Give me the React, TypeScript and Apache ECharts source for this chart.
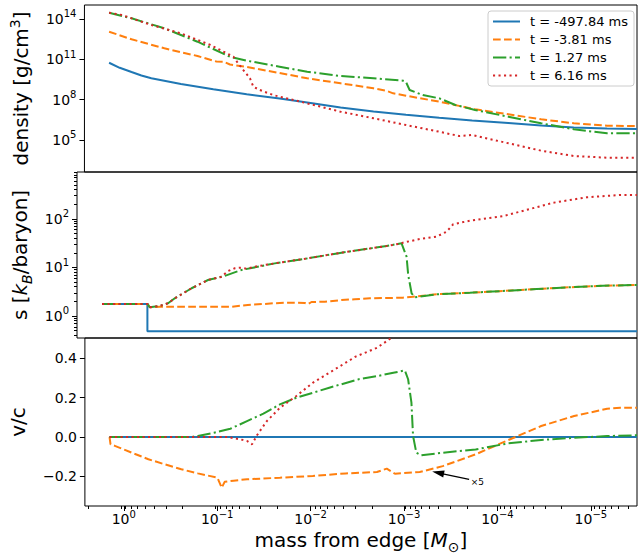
import React, { useEffect, useRef } from "react";
import * as echarts from "echarts";

// ---------------- data (mass from edge in M_sun) ----------------
const seriesNames = ["t = -497.84 ms", "t = -3.81 ms", "t = 1.27 ms", "t = 6.16 ms"];
const seriesColors = ["#1f77b4", "#ff7f0e", "#2ca02c", "#d62728"];

// density [g/cm^3]
const densityBlue = [
  [1.42, 5.5e10], [1.094, 2.31e10], [0.817, 1.12e10], [0.641, 6.2e9], [0.502, 3.8e9],
  [0.242, 1.44e9], [0.109, 5.8e8],
  [0.0479, 2.45e8], [0.0213, 1.19e8], [0.0108, 6.0e7], [0.00475, 2.55e7], [0.00211, 1.28e7],
  [9.48e-4, 7.3e6], [4.18e-4, 4.35e6], [1.86e-4, 2.74e6], [7.62e-5, 1.78e6], [3.4e-5, 1.16e6],
  [1.52e-5, 8.2e5], [6.7e-6, 6.9e5], [3.21e-6, 6.4e5],
];
const densityOrange = [
  [1.42, 1.13e13], [0.817, 3.07e12], [0.364, 6.56e11], [0.161, 1.75e11], [0.101, 6.8e10],
  [0.0851, 6.6e10], [0.0724, 4.07e10], [0.0479, 2.65e10], [0.0213, 9.46e9], [0.0108, 3.81e9],
  [0.00475, 1.62e9], [0.00211, 6.86e8], [0.00154, 4.54e8], [0.0013, 2.9e8], [9.48e-4, 1.93e8],
  [4.18e-4, 6.9e7], [1.73e-4, 1.87e7], [7.62e-5, 7.9e6], [3.4e-5, 3.36e6], [1.52e-5, 1.69e6],
  [6.7e-6, 1.12e6], [3.21e-6, 1.06e6],
];
const densityGreen = [
  [1.42, 2.94e14], [0.817, 1.13e14], [0.364, 2.03e13], [0.161, 2.03e12], [0.0724, 1.55e11],
  [0.0479, 7.8e10], [0.0213, 2.79e10], [0.0108, 1.18e10], [0.00475, 5.66e9], [0.00211, 3.81e9],
  [0.00102, 2.52e9], [9.48e-4, 2.02e9], [8.67e-4, 5.12e8], [6.27e-4, 2.17e8], [4.18e-4, 1.23e8],
  [2.81e-4, 3.91e7], [1.73e-4, 1.66e7], [7.62e-5, 5.25e6], [3.4e-5, 1.69e6], [1.52e-5, 6.04e5],
  [6.7e-6, 3.04e5], [3.21e-6, 3.04e5],
];
const densityRed = [
  [1.42, 2.94e14], [1.04, 2.0e14], [0.502, 3.55e13], [0.242, 8.5e12], [0.117, 1.15e12],
  [0.0664, 1.55e11], [0.061, 6.6e10], [0.052, 1.58e10], [0.0442, 3.8e9], [0.0407, 9.1e8],
  [0.0347, 5.1e8], [0.0251, 2.19e8], [0.0213, 1.62e8], [0.0108, 5.2e7], [0.00475, 1.24e7],
  [0.00211, 4.0e6], [9.48e-4, 1.26e6], [4.18e-4, 4.0e5], [2.57e-4, 1.91e5], [1.86e-4, 2.27e5],
  [7.62e-5, 5.5e4], [3.4e-5, 1.54e4], [1.52e-5, 6.2e3], [6.7e-6, 4.6e3], [3.21e-6, 4.6e3],
];

// entropy s [k_B/baryon]
const entropyBlue = [[1.42, 1.77], [0.471, 1.77], [0.471, 0.484], [3.21e-6, 0.484]];
const entropyOrange = [
  [1.42, 1.77], [0.471, 1.77], [0.445, 1.51], [0.349, 1.55], [0.061, 1.55], [0.0411, 1.68],
  [0.0213, 1.83], [0.0155, 1.88], [0.0103, 1.85], [0.00948, 1.76], [0.00873, 1.94],
  [0.00631, 1.97], [0.00421, 2.13], [0.00305, 2.21], [0.00211, 2.31], [9.48e-4, 2.38],
  [7.43e-4, 2.49], [4.18e-4, 2.8], [1.86e-4, 3.01], [8.33e-5, 3.27], [3.67e-5, 3.59],
  [1.64e-5, 3.9], [7.33e-6, 4.2], [3.21e-6, 4.34],
];
const entropyGreen = [
  [1.42, 1.77], [0.471, 1.77], [0.445, 1.51], [0.349, 1.61], [0.285, 1.83], [0.242, 2.31],
  [0.161, 3.72], [0.108, 5.5], [0.0724, 6.65], [0.0479, 8.84], [0.0213, 12.1], [0.00948, 15.4],
  [0.00421, 20.1], [0.00211, 24.5], [0.00141, 27.5], [9.79e-4, 31.3], [8.67e-4, 16.6],
  [8.33e-4, 6.98], [7.67e-4, 2.93], [7.08e-4, 2.43], [4.18e-4, 2.8], [1.86e-4, 3.01],
  [8.33e-5, 3.27], [3.67e-5, 3.59], [1.64e-5, 3.9], [7.33e-6, 4.2], [3.21e-6, 4.34],
];
const entropyRed = [
  [1.42, 1.77], [0.471, 1.77], [0.445, 1.51], [0.349, 1.61], [0.285, 1.83], [0.242, 2.31],
  [0.161, 3.72], [0.108, 5.5], [0.0778, 6.44], [0.0664, 8.4], [0.0564, 9.6], [0.0479, 9.9],
  [0.0424, 9.4], [0.0322, 10.6], [0.0213, 12.1], [0.00948, 15.4], [0.00421, 20.1],
  [0.00211, 24.5], [0.00141, 27.5], [9.79e-4, 31.3], [9.48e-4, 32.2], [6.27e-4, 38.4],
  [4.18e-4, 42.8], [3.28e-4, 54.3], [2.79e-4, 77.1], [1.86e-4, 91.5], [8.27e-5, 114],
  [5.51e-5, 140], [2.45e-5, 214], [1.09e-5, 277], [4.84e-6, 309], [3.21e-6, 309],
];

// velocity v/c
const velocityBlue = [[1.42, 0], [3.21e-6, 0]];
const velocityOrange = [
  [1.42, 0], [1.385, -0.037], [1.227, -0.046], [0.817, -0.08], [0.545, -0.113], [0.364, -0.139],
  [0.242, -0.164], [0.161, -0.185], [0.0993, -0.207], [0.0894, -0.258], [0.0832, -0.228],
  [0.0668, -0.222], [0.0479, -0.215], [0.0213, -0.207], [0.00948, -0.198], [0.00421, -0.185],
  [0.00195, -0.178], [0.00153, -0.161], [0.00125, -0.187], [6.79e-4, -0.178], [3.85e-4, -0.148],
  [1.71e-4, -0.088], [7.62e-5, -0.015], [3.4e-5, 0.056], [1.51e-5, 0.107], [6.7e-6, 0.144],
  [4.84e-6, 0.149], [3.21e-6, 0.149],
];
const velocityGreen = [
  [1.42, 0], [0.19, 0], [0.161, 0.005], [0.108, 0.022], [0.0724, 0.042], [0.0479, 0.081],
  [0.032, 0.119], [0.0213, 0.166], [0.0142, 0.2], [0.00948, 0.225], [0.00631, 0.251],
  [0.00305, 0.294], [0.00195, 0.31], [0.0013, 0.327], [9.79e-4, 0.339], [9.04e-4, 0.294],
  [8.33e-4, 0.175], [8.0e-4, 0.005], [7.38e-4, -0.08], [6.54e-4, -0.093], [3.85e-4, -0.08],
  [1.71e-4, -0.063], [7.62e-5, -0.032], [3.4e-5, -0.015], [1.51e-5, -0.004], [6.7e-6, 0.005],
  [3.21e-6, 0.009],
];
const velocityRed = [
  [1.42, 0], [0.0778, 0], [0.0564, -0.012], [0.0479, -0.02], [0.0424, -0.037], [0.0375, 0.009],
  [0.0294, 0.081], [0.0213, 0.149], [0.0142, 0.209], [0.00948, 0.276], [0.00631, 0.327],
  [0.0033, 0.409], [0.00195, 0.454], [0.00147, 0.494], [0.00102, 0.55],
];

// annotation (mass, v/c)
const arrowTail = [2.01e-4, -0.215];
const arrowHead = [4.32e-4, -0.182];
const annotationLabelPos = [1.64e-4, -0.229];
const annotationText = "×5";

// tick labels / axis settings
const xMajorExponents = [0, -1, -2, -3, -4, -5];
const densityTickExponents = [5, 8, 11, 14];
const entropyTickExponents = [0, 1, 2];
const velocityTicks = [-0.2, 0, 0.2, 0.4];

const X_LOG_MIN = -5.494;
const X_LOG_MAX = 0.416;
const DENS_LOG_RANGE = [2.599, 15.043];
const ENT_LOG_RANGE = [-0.453, 2.963];
const VEL_RANGE = [-0.351, 0.504];

// ---------------- helpers ----------------
const FONT = "'DejaVu Sans', sans-serif";
const lineTypes: any[] = ["solid", [7.7, 3.3], [13.3, 3.3, 2.1, 3.3], [2.1, 3.4]];

function minorLogTicks(lo: number, hi: number) {
  const out: number[] = [];
  for (let n = Math.floor(lo) - 1; n <= Math.ceil(hi); n++) {
    for (let k = 2; k <= 9; k++) {
      const v = n + Math.log10(k);
      if (v >= lo && v <= hi) out.push(v);
    }
  }
  return out;
}

const minus = (s: string) => s.replace("-", "\u2212");
const expLabel = (v: number) => `{b|10}{s|${minus(String(Math.round(v)))}}`;

const tickRich = {
  b: { fontSize: 14, lineHeight: 14, fontFamily: FONT, color: "#000", verticalAlign: "bottom" },
  s: { fontSize: 10, lineHeight: 10, fontFamily: FONT, color: "#000", verticalAlign: "bottom", padding: [0, 0, 7, 0] },
};
const nameRich = {
  n: { fontSize: 20, lineHeight: 20, fontFamily: FONT, color: "#000", verticalAlign: "bottom", padding: [0, 0, 4, 0] },
  i: { fontSize: 20, lineHeight: 20, fontFamily: FONT, fontStyle: "italic", color: "#000", verticalAlign: "bottom", padding: [0, 0, 4, 0] },
  sub: { fontSize: 14, lineHeight: 14, fontFamily: FONT, fontStyle: "italic", color: "#000", verticalAlign: "bottom" },
  subn: { fontSize: 14, lineHeight: 14, fontFamily: FONT, color: "#000", verticalAlign: "bottom" },
  sup: { fontSize: 14, lineHeight: 14, fontFamily: FONT, color: "#000", verticalAlign: "bottom", padding: [0, 0, 13, 0] },
};

const tickLine = { color: "#000", width: 1 };

function buildOption() {
  const grids = [
    { left: 77, top: 5, width: 560, height: 167 },
    { left: 77, top: 172, width: 560, height: 166 },
    { left: 77, top: 338, width: 560, height: 168 },
    { left: 77, top: 338, width: 560, height: 168 },
    { left: 77, top: 172, width: 560, height: 166 },
  ].map((g, i) => ({
    ...g,
    show: i < 3,
    borderColor: "#000",
    borderWidth: 1,
    backgroundColor: "transparent",
  }));

  const baseX = (gridIndex: number) => ({
    type: "value",
    gridIndex,
    min: X_LOG_MIN,
    max: X_LOG_MAX,
    inverse: true,
    axisLine: { show: false, onZero: false },
    splitLine: { show: false },
    axisTick: { show: false },
    axisLabel: { show: false },
  });

  const xAxis: any[] = [
    baseX(0),
    baseX(1),
    {
      ...baseX(2),
      axisTick: { show: true, length: 5, lineStyle: tickLine, customValues: xMajorExponents },
      axisLabel: {
        show: true,
        customValues: xMajorExponents,
        margin: 6,
        formatter: (v: number) => expLabel(v),
        rich: tickRich,
      },
      name: "{n|mass from edge [}{i|M}{subn|\u2299}{n|]}",
      nameLocation: "middle",
      nameGap: 28,
      nameTextStyle: { rich: nameRich },
    },
    {
      ...baseX(3),
      axisTick: { show: true, length: 3, lineStyle: tickLine, customValues: minorLogTicks(X_LOG_MIN, X_LOG_MAX) },
    },
    { type: "value", gridIndex: 4, min: 0, max: 1, show: false },
  ];

  const baseY = (gridIndex: number, range: number[]) => ({
    type: "value",
    gridIndex,
    min: range[0],
    max: range[1],
    axisLine: { show: false, onZero: false },
    splitLine: { show: false },
    axisTick: { show: false },
    axisLabel: { show: false },
  });

  const yAxis: any[] = [
    {
      ...baseY(0, DENS_LOG_RANGE),
      axisTick: { show: true, length: 5, lineStyle: tickLine, customValues: densityTickExponents },
      axisLabel: { show: true, customValues: densityTickExponents, margin: 8, formatter: expLabel, rich: tickRich },
      name: "{n|density [g/cm}{sup|3}{n|]}",
      nameLocation: "middle",
      nameGap: 45,
      nameTextStyle: { rich: nameRich },
    },
    {
      ...baseY(1, ENT_LOG_RANGE),
      axisTick: { show: true, length: 5, lineStyle: tickLine, customValues: entropyTickExponents },
      axisLabel: { show: true, customValues: entropyTickExponents, margin: 8, formatter: expLabel, rich: tickRich },
      name: "{n|s [}{i|k}{sub|B}{n|/baryon]}",
      nameLocation: "middle",
      nameGap: 39,
      nameTextStyle: { rich: nameRich },
    },
    {
      ...baseY(2, VEL_RANGE),
      axisTick: { show: true, length: 5, lineStyle: tickLine, customValues: velocityTicks },
      axisLabel: {
        show: true,
        customValues: velocityTicks,
        margin: 8,
        fontSize: 14,
        fontFamily: FONT,
        color: "#000",
        formatter: (v: number) => minus(v.toFixed(1)),
      },
      name: "{n|v/c}",
      nameLocation: "middle",
      nameGap: 49,
      nameTextStyle: { rich: nameRich },
    },
    { type: "value", gridIndex: 3, min: 0, max: 1, show: false },
    {
      ...baseY(4, ENT_LOG_RANGE),
      axisTick: { show: true, length: 3, lineStyle: tickLine, customValues: minorLogTicks(ENT_LOG_RANGE[0], ENT_LOG_RANGE[1]) },
    },
  ];

  const log = (v: number) => Math.log10(v);
  const ident = (v: number) => v;
  const mk = (idx: number, data: number[][], panel: number, yT: (v: number) => number, extra: any = {}) => ({
    type: "line",
    name: seriesNames[idx],
    xAxisIndex: panel,
    yAxisIndex: panel,
    data: data.map(([m, v]) => [Math.log10(m), yT(v)]),
    symbol: "none",
    showSymbol: false,
    color: seriesColors[idx],
    lineStyle: { color: seriesColors[idx], width: 2, type: lineTypes[idx] },
    itemStyle: { color: seriesColors[idx] },
    emphasis: { disabled: true },
    silent: true,
    clip: true,
    z: 2 + idx,
    ...extra,
  });

  const annotation = {
    markLine: {
      silent: true,
      animation: false,
      label: { show: false },
      emphasis: { disabled: true },
      lineStyle: { color: "#000", width: 1.3, type: "solid" },
      data: [
        [
          { coord: [log(arrowTail[0]), arrowTail[1]], symbol: "none" },
          { coord: [log(arrowHead[0]), arrowHead[1]], symbol: "triangle", symbolSize: [7, 12] },
        ],
      ],
    },
    markPoint: {
      silent: true,
      animation: false,
      data: [
        {
          coord: [log(annotationLabelPos[0]), annotationLabelPos[1]],
          symbol: "circle",
          symbolSize: 1,
          itemStyle: { color: "rgba(0,0,0,0)" },
          label: {
            show: true,
            position: "inside",
            formatter: annotationText,
            fontSize: 9,
            fontFamily: FONT,
            color: "#000",
          },
        },
      ],
    },
  };

  const series = [
    mk(0, densityBlue, 0, log),
    mk(1, densityOrange, 0, log),
    mk(2, densityGreen, 0, log),
    mk(3, densityRed, 0, log),
    mk(0, entropyBlue, 1, log),
    mk(1, entropyOrange, 1, log),
    mk(2, entropyGreen, 1, log),
    mk(3, entropyRed, 1, log),
    mk(0, velocityBlue, 2, ident),
    mk(1, velocityOrange, 2, ident, annotation),
    mk(2, velocityGreen, 2, ident),
    mk(3, velocityRed, 2, ident),
  ];

  return {
    animation: false,
    backgroundColor: "#fff",
    textStyle: { fontFamily: FONT },
    grid: grids,
    xAxis,
    yAxis,
    legend: {
      data: seriesNames,
      orient: "vertical",
      left: 488,
      top: 11,
      itemWidth: 27,
      itemHeight: 14,
      itemGap: 5,
      padding: [4, 6, 4, 4],
      backgroundColor: "rgba(255,255,255,0.8)",
      borderColor: "#cccccc",
      borderWidth: 1,
      borderRadius: 3,
      selectedMode: false,
      itemStyle: { opacity: 0, color: "rgba(0,0,0,0)", borderWidth: 0 },
      textStyle: { fontFamily: FONT, fontSize: 13, color: "#000", padding: [0, 0, 0, 5] },
    },
    series,
  };
}

export default function App() {
  const ref = useRef<HTMLDivElement>(null);
  useEffect(() => {
    if (!ref.current) return;
    const chart = echarts.init(ref.current, null, { renderer: "svg" });
    chart.setOption(buildOption() as any);
    return () => chart.dispose();
  }, []);
  return (
    <div
      ref={ref}
      style={{ position: "fixed", left: 0, top: 0, width: 638, height: 555, background: "#fff" }}
    />
  );
}
